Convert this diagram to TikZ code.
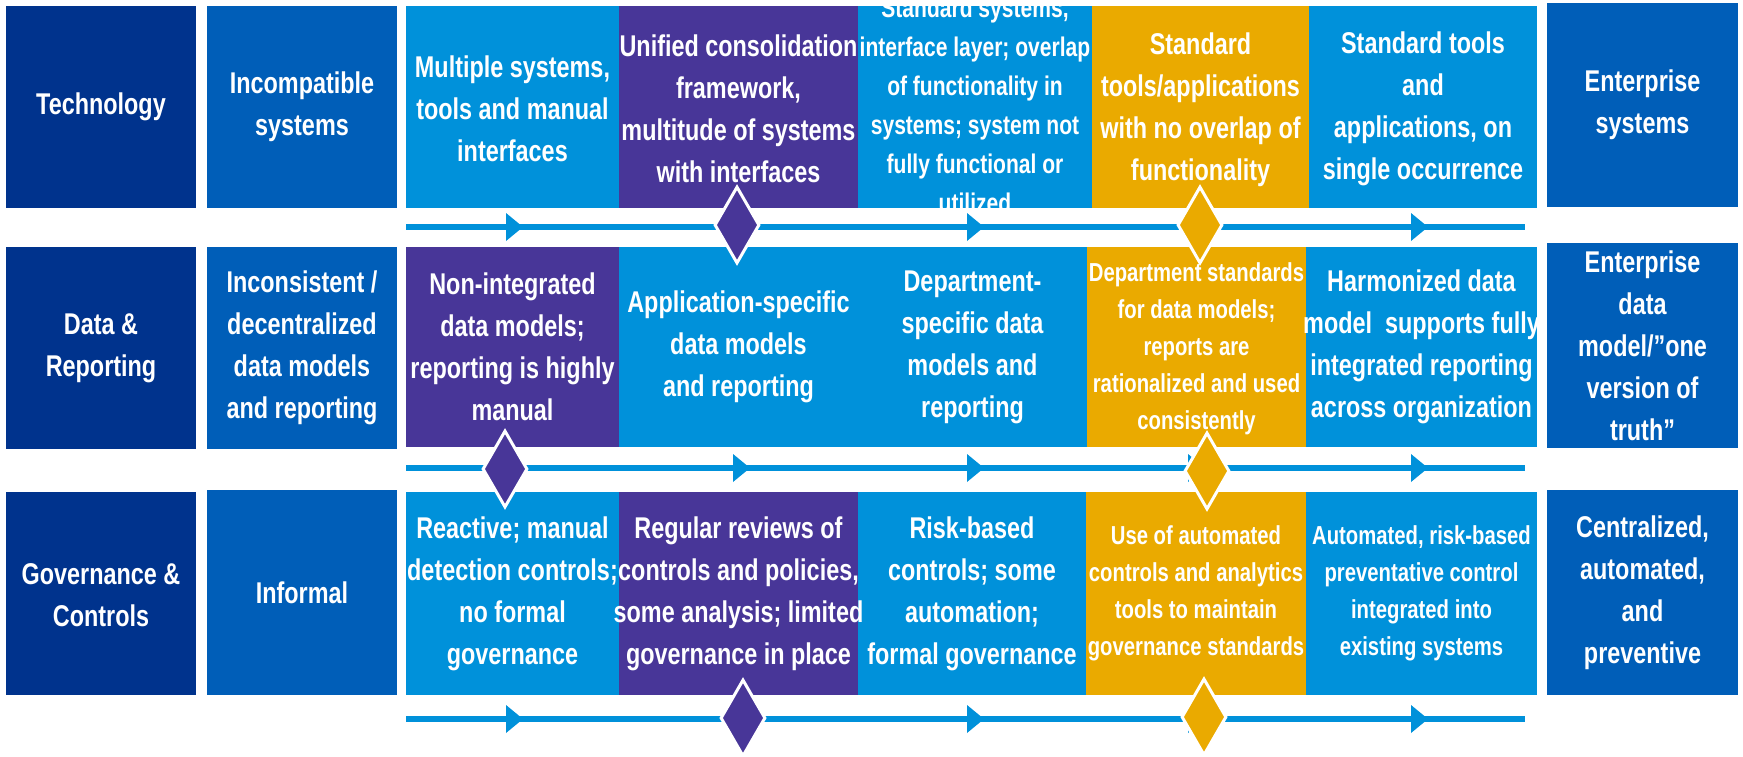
\documentclass[tikz,border=0pt]{standalone}
\usepackage{fontspec}
\setmainfont{Liberation Sans}[FakeStretch=0.78]
\usetikzlibrary{shapes.geometric}

\definecolor{kNavy}{RGB}{0,51,141}
\definecolor{kMid}{RGB}{0,94,184}
\definecolor{kSky}{RGB}{0,145,218}
\definecolor{kViolet}{RGB}{72,54,152}
\definecolor{kGold}{RGB}{234,170,0}

\begin{document}
\begin{tikzpicture}[x=1pt,y=-1pt,
  cell/.style={rectangle, inner sep=0pt, outer sep=0pt, draw=none},
  lbl/.style={text=white, align=center, inner sep=0pt, font=\bfseries\fontsize{30}{42}\selectfont},
  lblM/.style={lbl, font=\bfseries\fontsize{27}{39}\selectfont},
  lblS/.style={lbl, font=\bfseries\fontsize{26}{37}\selectfont},
  tline/.style={draw=kSky, line width=6pt},
  headfill/.style={fill=kSky},
  mstone/.style={diamond, draw=white, line width=3pt, minimum width=45pt, minimum height=77pt, inner sep=0pt}
]
\useasboundingbox (0,0) rectangle (1743,757);

% ---------------- row 1: Technology ----------------
\node[cell, fill=kNavy,   minimum width=190pt, minimum height=202pt] (lab1) at (101,107) {};
\node[cell, fill=kMid,    minimum width=190pt, minimum height=202pt] (cur1) at (302,107) {};
\node[cell, fill=kSky,    minimum width=213pt, minimum height=202pt] (s11) at (512.5,107) {};
\node[cell, fill=kViolet, minimum width=239pt, minimum height=202pt] (s12) at (738.5,107) {};
\node[cell, fill=kSky,    minimum width=234pt, minimum height=202pt] (s13) at (975,107) {};
\node[cell, fill=kGold,   minimum width=217pt, minimum height=202pt] (s14) at (1200.5,107) {};
\node[cell, fill=kSky,    minimum width=228pt, minimum height=202pt] (s15) at (1423,107) {};
\node[cell, fill=kMid,    minimum width=191pt, minimum height=204pt] (tgt1) at (1642.5,105) {};

% ---------------- row 2: Data & Reporting ----------------
\node[cell, fill=kNavy,   minimum width=190pt, minimum height=202pt] (lab2) at (101,348) {};
\node[cell, fill=kMid,    minimum width=190pt, minimum height=202pt] (cur2) at (302,348) {};
\node[cell, fill=kViolet, minimum width=213pt, minimum height=200pt] (s21) at (512.5,347) {};
\node[cell, fill=kSky,    minimum width=239pt, minimum height=200pt] (s22) at (738.5,347) {};
\node[cell, fill=kSky,    minimum width=229pt, minimum height=200pt] (s23) at (972.5,347) {};
\node[cell, fill=kGold,   minimum width=219pt, minimum height=200pt] (s24) at (1196.5,347) {};
\node[cell, fill=kSky,    minimum width=231pt, minimum height=200pt] (s25) at (1421.5,347) {};
\node[cell, fill=kMid,    minimum width=191pt, minimum height=205pt] (tgt2) at (1642.5,345.5) {};

% ---------------- row 3: Governance & Controls ----------------
\node[cell, fill=kNavy,   minimum width=190pt, minimum height=203pt] (lab3) at (101,593.5) {};
\node[cell, fill=kMid,    minimum width=190pt, minimum height=205pt] (cur3) at (302,592.5) {};
\node[cell, fill=kSky,    minimum width=213pt, minimum height=203pt] (s31) at (512.5,593.5) {};
\node[cell, fill=kViolet, minimum width=239pt, minimum height=203pt] (s32) at (738.5,593.5) {};
\node[cell, fill=kSky,    minimum width=228pt, minimum height=203pt] (s33) at (972,593.5) {};
\node[cell, fill=kGold,   minimum width=220pt, minimum height=203pt] (s34) at (1196,593.5) {};
\node[cell, fill=kSky,    minimum width=231pt, minimum height=203pt] (s35) at (1421.5,593.5) {};
\node[cell, fill=kMid,    minimum width=191pt, minimum height=205pt] (tgt3) at (1642.5,592.5) {};

% ---------------- texts ----------------
\node[lbl] (lab1t) at (lab1.center) {Technology};
\node[lbl] (cur1t) at (cur1.center) {Incompatible\\systems};
\node[lbl] (s11t) at ([yshift=-2pt]s11.center) {Multiple systems,\\tools and manual\\interfaces};
\node[lbl] (s12t) at ([yshift=-2pt]s12.center) {Unified consolidation\\framework,\\multitude of systems\\with interfaces};
\begin{scope}
  \clip (s13.south west) rectangle (s13.north east);
  \node[lblM] (s13t) at ([yshift=2pt]s13.center) {Standard systems,\\interface layer; overlap\\of functionality in\\systems; system not\\fully functional or\\utilized};
\end{scope}
\node[lbl] (s14t) at ([yshift=-3pt]s14.center) {Standard\\tools/applications\\with no overlap of\\functionality};
\node[lbl] (s15t) at ([yshift=-2pt]s15.center) {Standard tools\\and\\applications, on\\single occurrence};
\node[lbl] (tgt1t) at (tgt1.center) {Enterprise\\systems};

\node[lbl] (lab2t) at (lab2.center) {Data \&\\Reporting};
\node[lbl] (cur2t) at (cur2.center) {Inconsistent /\\decentralized\\data models\\and reporting};
\node[lbl] (s21t) at (s21.center) {Non-integrated\\data models;\\reporting is highly\\manual};
\node[lbl] (s22t) at (s22.center) {Application-specific\\data models\\and reporting};
\node[lbl] (s23t) at (s23.center) {Department-\\specific data\\models and\\reporting};
\node[lblS] (s24t) at ([yshift=-2pt]s24.center) {Department standards\\for data models;\\reports are\\rationalized and used\\consistently};
\node[lbl] (s25t) at (s25.center) {Harmonized data\\model\ \ supports fully\\integrated reporting\\across organization};
\node[lbl] (tgt2t) at (tgt2.center) {Enterprise\\data\\model/”one\\version of\\truth”};

\node[lbl] (lab3t) at ([yshift=-2pt]lab3.center) {Governance \&\\Controls};
\node[lbl] (cur3t) at (cur3.center) {Informal};
\node[lbl] (s31t) at (s31.center) {Reactive; manual\\detection controls;\\no formal\\governance};
\node[lbl] (s32t) at (s32.center) {Regular reviews of\\controls and policies,\\some analysis; limited\\governance in place};
\node[lbl] (s33t) at (s33.center) {Risk-based\\controls; some\\automation;\\formal governance};
\node[lblS] (s34t) at (s34.center) {Use of automated\\controls and analytics\\tools to maintain\\governance standards};
\node[lblS] (s35t) at (s35.center) {Automated, risk-based\\preventative control\\integrated into\\existing systems};
\node[lbl] (tgt3t) at (tgt3.center) {Centralized,\\automated,\\and\\preventive};

% ---------------- timelines with arrowheads ----------------
\coordinate (a1) at (406,227);  \coordinate (b1) at (1525,227);
\coordinate (a2) at (406,468);  \coordinate (b2) at (1525,468);
\coordinate (a3) at (406,719);  \coordinate (b3) at (1525,719);
\draw[tline] (a1) -- (b1);
\draw[tline] (a2) -- (b2);
\draw[tline] (a3) -- (b3);
\foreach \yy in {227,468,719}{
  \foreach \xx in {506,733,967,1188,1411}{
    \fill[headfill] (\xx,\yy-14) -- (\xx+17,\yy) -- (\xx,\yy+14) -- cycle;
  }
}

% ---------------- milestones ----------------
\node[mstone, fill=kViolet] (m11) at (737,225) {};
\node[mstone, fill=kGold]   (m12) at (1200,225) {};
\node[mstone, fill=kViolet] (m21) at (505,469) {};
\node[mstone, fill=kGold]   (m22) at (1207,471) {};
\node[mstone, fill=kViolet] (m31) at (743,718) {};
\node[mstone, fill=kGold]   (m32) at (1204,717) {};
\end{tikzpicture}
\end{document}
